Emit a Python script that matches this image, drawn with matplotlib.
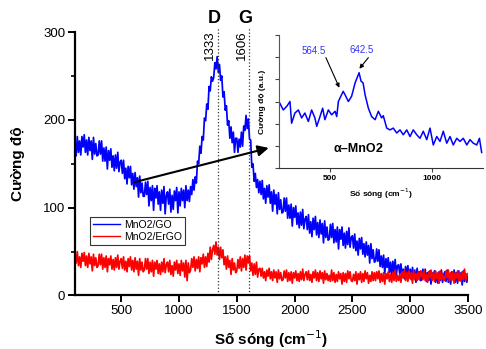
import numpy as np
import matplotlib
matplotlib.use("Agg")
import matplotlib.pyplot as plt

plt.rcParams['font.family'] = ['Liberation Sans', 'DejaVu Sans']

# Raman spectra, sampled every 10 cm-1 from 100 to 3500 (one row = 200 cm-1)
wavenumber = np.arange(100, 3501, 10)

mno2_go = [
    168, 159, 181, 163, 176, 160, 181, 169, 183, 163, 177, 160, 180, 165, 176, 155, 180, 161, 173, 159,
    160, 176, 161, 176, 153, 168, 153, 169, 144, 165, 154, 167, 146, 159, 142, 160, 145, 163, 141, 152,
    154, 139, 154, 133, 145, 127, 147, 134, 147, 126, 139, 121, 140, 124, 134, 112, 136, 117, 128, 113,
    113, 129, 115, 130, 102, 123, 108, 125, 97, 122, 111, 125, 104, 118, 97, 120, 105, 124, 93, 114,
    118, 104, 121, 95, 114, 98, 119, 108, 123, 94, 118, 102, 122, 108, 120, 100, 125, 108, 120, 107,
    124, 115, 132, 120, 135, 128, 153, 150, 170, 162, 181, 177, 202, 199, 218, 212, 238, 233, 249, 244,
    248, 265, 258, 272, 254, 263, 245, 250, 226, 232, 211, 216, 194, 199, 179, 192, 174, 186, 163, 179,
    179, 163, 178, 169, 186, 170, 193, 188, 205, 190, 201, 178, 177, 146, 150, 130, 139, 123, 132, 117,
    130, 115, 131, 110, 122, 105, 125, 112, 126, 105, 118, 96, 120, 104, 115, 93, 117, 98, 109, 94,
    95, 111, 96, 111, 88, 103, 88, 104, 79, 100, 89, 102, 81, 94, 77, 95, 80, 98, 76, 87,
    90, 75, 92, 71, 84, 67, 88, 75, 90, 69, 83, 66, 86, 70, 82, 60, 85, 66, 78, 63,
    64, 81, 66, 82, 60, 75, 61, 78, 53, 75, 64, 78, 57, 71, 54, 73, 58, 77, 55, 66,
    68, 54, 70, 51, 62, 46, 65, 53, 66, 47, 59, 44, 61, 46, 57, 37, 59, 42, 52, 38,
    39, 53, 39, 52, 33, 45, 32, 46, 25, 42, 32, 43, 26, 38, 23, 39, 26, 41, 23, 34,
    35, 24, 36, 22, 30, 19, 33, 24, 34, 20, 30, 18, 32, 21, 29, 15, 31, 19, 27, 17,
    18, 30, 20, 30, 16, 26, 17, 28, 13, 26, 19, 28, 15, 25, 14, 27, 17, 29, 15, 24,
    27, 16, 29, 15, 24, 13, 27, 19, 29, 15, 26, 14, 28, 17, 26, 12, 28, 16, 25, 15,
    22,
]

mno2_ergo = [
    48, 37, 50, 34, 44, 32, 48, 39, 49, 34, 45, 32, 48, 36, 44, 28, 47, 34, 43, 32,
    34, 47, 35, 47, 30, 43, 32, 45, 27, 42, 35, 45, 30, 41, 29, 43, 32, 46, 30, 39,
    42, 31, 44, 29, 39, 27, 42, 33, 44, 29, 40, 27, 43, 30, 39, 23, 42, 29, 38, 27,
    29, 42, 30, 42, 25, 38, 27, 40, 22, 38, 30, 40, 25, 36, 24, 38, 27, 42, 26, 35,
    38, 27, 40, 24, 34, 22, 38, 29, 40, 25, 36, 23, 40, 28, 37, 21, 40, 17, 37, 26,
    29, 42, 32, 44, 28, 41, 31, 44, 27, 43, 36, 47, 32, 44, 33, 48, 38, 55, 41, 52,
    57, 47, 61, 46, 55, 41, 55, 43, 52, 35, 44, 30, 45, 32, 40, 24, 42, 29, 37, 26,
    28, 41, 31, 44, 28, 42, 32, 46, 29, 45, 37, 45, 28, 37, 23, 36, 24, 38, 21, 30,
    31, 22, 31, 20, 27, 17, 29, 22, 31, 19, 27, 17, 29, 20, 27, 15, 29, 19, 26, 17,
    18, 28, 20, 29, 16, 26, 17, 27, 14, 26, 20, 28, 17, 25, 16, 27, 18, 30, 17, 24,
    27, 18, 28, 17, 24, 15, 27, 20, 29, 17, 26, 16, 28, 19, 26, 14, 28, 18, 25, 17,
    23, 16, 29, 17, 26, 15, 24, 16, 27, 19, 25, 13, 26, 16, 25, 15, 28, 19, 27, 17,
    16, 24, 17, 27, 13, 25, 18, 27, 15, 25, 16, 28, 19, 26, 14, 23, 16, 27, 17, 26,
    17, 27, 19, 28, 15, 25, 16, 26, 13, 25, 19, 27, 16, 24, 15, 26, 17, 29, 16, 23,
    17, 24, 15, 27, 20, 29, 17, 26, 16, 28, 19, 26, 14, 28, 18, 25, 17, 27, 18, 28,
    27, 18, 28, 17, 24, 15, 27, 20, 29, 17, 26, 16, 28, 19, 26, 14, 28, 18, 25, 17,
    18, 28, 20, 29, 16, 26, 17, 27, 14, 26, 20, 28, 17, 25, 16, 27, 18, 30, 17, 24,
    25,
]

# alpha-MnO2 spectrum for the inset (arbitrary units)
inset_x = [250, 271, 288, 304, 312, 328, 345, 361, 377, 394,
           410, 426, 435, 451, 464, 475, 492, 508, 525, 533,
           541, 564.5, 574, 590, 606, 623, 642.5, 652, 662, 672,
           688, 704, 721, 737, 753, 761, 778, 794, 810, 827,
           843, 859, 876, 892, 908, 925, 941, 957, 974, 990,
           1006, 1023, 1039, 1055, 1072, 1088, 1104, 1121, 1137, 1153,
           1170, 1186, 1202, 1219, 1232, 1243]
inset_y = [150, 131, 139, 150, 101, 124, 131, 113, 124, 105,
           131, 113, 94, 116, 135, 109, 131, 120, 128, 116,
           150, 173, 165, 150, 162, 192, 215, 196, 192, 165,
           135, 116, 109, 128, 113, 118, 90, 86, 90, 79,
           86, 75, 86, 71, 86, 75, 67, 83, 64, 90,
           52, 71, 60, 83, 56, 71, 52, 67, 60, 67,
           52, 64, 56, 52, 67, 35]

band_pos = [1333, 1606]
band_names = ['D', 'G']

fig = plt.figure(figsize=(4.86, 3.49), dpi=100)
ax = fig.add_axes([0.1543, 0.1533, 0.8086, 0.755])

ax.plot(wavenumber, mno2_go, color='#0000ff', lw=1.25, label='MnO2/GO')
ax.plot(wavenumber, mno2_ergo, color='#ff0000', lw=1.25, label='MnO2/ErGO')

for pos, name in zip(band_pos, band_names):
    ax.plot([pos, pos], [0, 304], ls=':', color='#333333', lw=0.9, clip_on=False)
    ax.text(pos - 12, 302, str(pos), rotation=90, ha='right', va='top',
            fontsize=9.5, clip_on=False)
    ax.text(pos - 30, 306, name, ha='center', va='bottom', fontsize=13,
            fontweight='bold', clip_on=False)

ax.annotate('', xy=(1776, 168), xytext=(614, 129),
            arrowprops=dict(arrowstyle='-|>', color='black', lw=1.5,
                            mutation_scale=16, shrinkA=0, shrinkB=0),
            annotation_clip=False)

ax.set_xlim(100, 3500)
ax.set_ylim(0, 300)
ax.set_xticks([500, 1000, 1500, 2000, 2500, 3000, 3500])
ax.set_yticks([0, 100, 200, 300])
ax.set_yticks([50, 150, 250], minor=True)
for s in ['top', 'right']:
    ax.spines[s].set_visible(False)
for s in ['left', 'bottom']:
    ax.spines[s].set_linewidth(1.6)
ax.tick_params(axis='both', which='major', direction='out', length=5, width=1.4,
               labelsize=9.5, pad=2)
ax.tick_params(axis='y', which='minor', direction='out', length=3, width=1.2)
ax.set_xlabel('Số sóng (cm$^{-1}$)', fontsize=11, fontweight='bold', labelpad=8)
ax.set_ylabel('Cường độ', fontsize=11, fontweight='bold', labelpad=13)

leg = ax.legend(loc='upper left', bbox_to_anchor=(0.038, 0.298), borderaxespad=0,
                fontsize=7.5, frameon=True, fancybox=False, handlelength=2.6,
                handletextpad=0.4, borderpad=0.3, labelspacing=0.15)
leg.get_frame().set_edgecolor('black')
leg.get_frame().set_linewidth(0.8)
for line in leg.get_lines():
    line.set_linewidth(1.0)

# inset with the alpha-MnO2 spectrum
axin = fig.add_axes([0.574, 0.5186, 0.420, 0.381])
axin.plot(inset_x, inset_y, color='#0000ff', lw=1.1)
axin.set_xlim(250, 1250)
axin.set_ylim(0, 300)
axin.set_xticks([500, 1000])
axin.set_yticks([0, 100, 200, 300])
axin.set_yticks([50, 150, 250], minor=True)
axin.set_yticklabels([])
for s in ['top', 'right']:
    axin.spines[s].set_visible(False)
axin.spines['left'].set_color('#555555')
axin.spines['bottom'].set_color('#333333')
axin.tick_params(axis='both', which='both', direction='out', length=3, width=0.8,
                 labelsize=6, pad=2, colors='#444444', labelcolor='black')
for lbl in axin.get_xticklabels():
    lbl.set_fontweight('bold')
axin.set_xlabel('Số sóng (cm$^{-1}$)', fontsize=6, fontweight='bold', labelpad=3)
axin.set_ylabel('Cường độ (a.u.)', fontsize=6, fontweight='bold', labelpad=4)

axin.text(418, 264, '564.5', color='#3333ff', fontsize=7, ha='center', va='center')
axin.text(655, 266, '642.5', color='#3333ff', fontsize=7, ha='center', va='center')
axin.annotate('', xy=(546, 181), xytext=(480, 249),
              arrowprops=dict(arrowstyle='-|>', color='black', lw=0.8,
                              mutation_scale=6, shrinkA=0, shrinkB=0))
axin.annotate('', xy=(644, 224), xytext=(688, 249),
              arrowprops=dict(arrowstyle='-|>', color='black', lw=0.8,
                              mutation_scale=6, shrinkA=0, shrinkB=0))

t = axin.text(515, 36, 'α–MnO', fontsize=9, fontweight='bold', ha='left', va='baseline')
axin.annotate('2', xy=(1, 0), xycoords=t, xytext=(0, 0), textcoords='offset points',
              fontsize=9, fontweight='bold', ha='left', va='bottom')

fig.savefig('out.png', dpi=100)
